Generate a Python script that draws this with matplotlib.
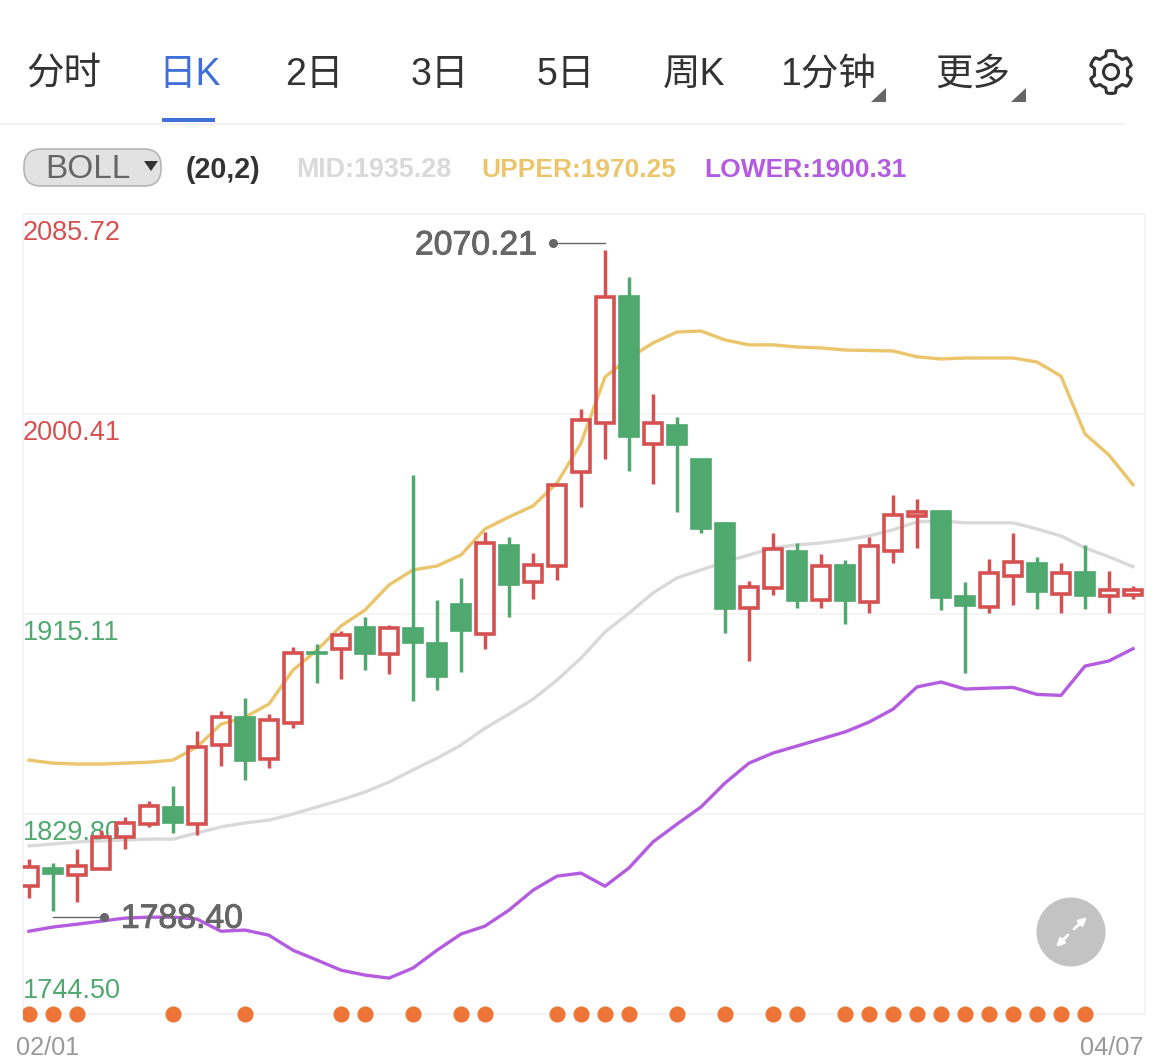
import numpy as np
import matplotlib
matplotlib.use("Agg")
import matplotlib.pyplot as plt
import matplotlib.patheffects as pe
from matplotlib.patches import Circle, FancyBboxPatch, Polygon, Rectangle

plt.rcParams['font.family'] = ['Liberation Sans', 'Noto Sans CJK SC', 'DejaVu Sans']

# daily candles, 02/01 to 04/07
opens = [1799.1, 1806.8, 1803.8, 1806.3, 1820.0, 1825.5, 1832.8, 1825.5, 1859.2, 1871.1, 1853.2, 1868.6,
         1898.9, 1900.2, 1909.6, 1898.0, 1909.1, 1902.7, 1919.4, 1906.6, 1944.6, 1928.7, 1935.6, 1975.7,
         1996.6, 2050.8, 1987.6, 1995.7, 1981.2, 1954.0, 1917.7, 1926.2, 1942.0, 1921.1, 1936.1, 1920.2,
         1942.0, 1956.9, 1959.1, 1922.8, 1918.1, 1931.3, 1936.9, 1923.6, 1933.0, 1922.8, 1923.2]
closes = [1807.2, 1804.2, 1807.6, 1820.0, 1826.0, 1833.2, 1826.0, 1858.4, 1871.1, 1852.4, 1869.8, 1898.5,
          1898.0, 1906.1, 1898.0, 1909.1, 1902.7, 1888.2, 1907.8, 1945.4, 1927.5, 1936.1, 1970.2, 1997.8,
          2050.4, 1990.6, 1996.6, 1987.2, 1951.4, 1917.2, 1926.6, 1942.9, 1920.6, 1935.6, 1920.6, 1944.2,
          1957.4, 1958.7, 1921.9, 1918.5, 1932.6, 1937.3, 1924.5, 1932.6, 1922.8, 1925.3, 1925.3]
highs = [1810.6, 1808.9, 1814.9, 1823.0, 1828.5, 1835.3, 1841.7, 1865.2, 1873.7, 1879.2, 1872.4, 1901.0,
         1902.3, 1907.8, 1913.8, 1910.4, 1974.4, 1921.1, 1930.5, 1950.1, 1948.0, 1941.2, 1970.2, 2002.5,
         2070.21, 2058.9, 2008.9, 1999.1, 1981.2, 1954.4, 1929.2, 1949.7, 1945.4, 1940.7, 1938.2, 1948.0,
         1965.9, 1964.2, 1959.1, 1928.7, 1938.6, 1949.7, 1939.5, 1936.9, 1944.6, 1933.4, 1927.0]
lows = [1794.0, 1788.40, 1792.3, 1806.3, 1814.9, 1824.3, 1821.7, 1820.8, 1850.2, 1844.3, 1849.4, 1866.4,
        1885.7, 1887.4, 1891.2, 1889.5, 1878.0, 1882.7, 1890.4, 1900.2, 1913.8, 1921.5, 1929.6, 1960.8,
        1981.2, 1976.1, 1970.6, 1958.7, 1949.7, 1907.0, 1895.1, 1923.2, 1917.7, 1917.7, 1910.8, 1915.5,
        1936.9, 1943.3, 1916.8, 1889.9, 1915.5, 1918.9, 1917.2, 1915.5, 1917.2, 1915.5, 1921.5]

# BOLL(20,2)
upper = [1852.8, 1851.5, 1851.1, 1851.1, 1851.5, 1851.9, 1852.8, 1858.4, 1868.1, 1871.1, 1876.7, 1891.2,
         1899.7, 1910.0, 1916.8, 1927.5, 1933.9, 1935.6, 1940.3, 1951.4, 1956.5, 1961.2, 1971.0, 1988.0,
         2016.2, 2024.3, 2030.7, 2035.4, 2035.8, 2032.0, 2029.9, 2029.9, 2029.0, 2028.6, 2027.7, 2027.5,
         2027.3, 2024.8, 2023.9, 2024.3, 2024.3, 2024.3, 2022.6, 2016.6, 1991.9, 1982.9, 1970.25]
mid = [1816.2, 1817.0, 1817.9, 1818.3, 1818.7, 1819.1, 1819.1, 1821.7, 1824.3, 1826.0, 1827.2, 1829.8,
       1832.8, 1835.8, 1839.2, 1843.4, 1848.6, 1853.6, 1859.2, 1866.4, 1872.4, 1878.8, 1886.9, 1896.3,
       1907.4, 1915.5, 1924.1, 1930.5, 1933.9, 1937.3, 1940.3, 1943.3, 1944.6, 1945.4, 1946.7, 1948.4,
       1951.0, 1954.4, 1954.8, 1954.0, 1954.0, 1954.0, 1951.4, 1948.4, 1943.3, 1939.5, 1935.28]
lower = [1779.8, 1781.6, 1782.8, 1784.1, 1785.4, 1785.8, 1785.8, 1785.0, 1779.8, 1780.3, 1778.1, 1771.7,
         1767.5, 1763.2, 1761.1, 1759.8, 1764.1, 1771.7, 1778.6, 1782.0, 1788.8, 1797.3, 1803.3, 1804.6,
         1799.0, 1806.8, 1817.9, 1825.5, 1832.8, 1843.0, 1851.5, 1855.8, 1858.8, 1861.8, 1864.8, 1869.0,
         1874.5, 1884.0, 1886.1, 1883.1, 1883.5, 1883.8, 1880.8, 1880.4, 1892.9, 1895.1, 1900.31]

# candles that carry an orange dot under the chart
dot_days = [0, 1, 2, 6, 9, 13, 14, 16, 18, 19, 22, 23, 24, 25, 27, 29, 31, 32, 34, 35, 36, 37, 38, 39,
            40, 41, 42, 43, 44]

y_ticks = [2085.72, 2000.41, 1915.11, 1829.80, 1744.50]
y_labels = ['2085.72', '2000.41', '1915.11', '1829.80', '1744.50']
y_label_colors = ['#d65050', '#d65050', '#4fa96e', '#4fa96e', '#4fa96e']
y_label_shift = [-13.4, -13.4, -13.4, -13.4, 16.8]
tabs = ['分时', '日K', '2日', '3日', '5日', '周K', '1分钟', '更多']
tab_x = [26, 158, 285, 411, 537, 663, 780, 935]
date_labels = ['02/01', '04/07']

RED = '#d65050'
GREEN = '#4fa96e'
YELLOW = '#ebc56b'
PURPLE = '#b45ce0'
GREY = '#d9d9d9'
ORANGE = '#ee7538'
BLUE = '#3f6fd9'
W, H = 1169, 1062

fig = plt.figure(figsize=(W / 100, H / 100), dpi=100, facecolor='white')

# chart area
ax = fig.add_axes([23 / W, 1 - 1014 / H, (1145 - 23) / W, 800 / H])
ax.set_xlim(-0.25, 46.5)
ax.set_ylim(1744.50, 2085.72)
ax.set_xticks([])
ax.set_yticks([])
for s in ax.spines.values():
    s.set_color('#f2f2f2')
    s.set_linewidth(1.2)
for t in y_ticks:
    ax.axhline(t, color='#f2f2f2', lw=1.2, zorder=1)
for t, lab, col, dy in zip(y_ticks, y_labels, y_label_colors, y_label_shift):
    ax.annotate(lab, (0, t), xycoords=('axes fraction', 'data'), xytext=(0, dy), textcoords='offset points',
                color=col, fontsize=19.5, ha='left', va='center', zorder=2, annotation_clip=False)

days = np.arange(len(opens))
ax.plot(days, upper, color=YELLOW, lw=2.4, zorder=3)
ax.plot(days, mid, color=GREY, lw=2.4, zorder=3)
ax.plot(days, lower, color=PURPLE, lw=2.4, zorder=3)

# candles: up days hollow, down days solid, wicks stop at the body
for i in days:
    top = max(opens[i], closes[i])
    bot = min(opens[i], closes[i])
    if closes[i] >= opens[i]:
        ax.vlines(i, top, highs[i], color=RED, lw=2.5, zorder=4)
        ax.vlines(i, lows[i], bot, color=RED, lw=2.5, zorder=4)
        ax.bar(i, top - bot, bottom=bot, width=0.74, facecolor='none', edgecolor=RED, lw=2.6, zorder=5)
    else:
        ax.vlines(i, lows[i], highs[i], color=GREEN, lw=2.5, zorder=4)
        ax.bar(i, top - bot, bottom=bot, width=0.84, facecolor=GREEN, edgecolor=GREEN, lw=1.2, zorder=5)

# high / low call-outs
stroke = [pe.withStroke(linewidth=0.7, foreground='#666666')]
hi = int(np.argmax(highs))
lo = int(np.argmin(lows))
ax.plot([hi - 2.17, hi], [highs[hi] + 3.0] * 2, color='#666666', lw=1, zorder=6)
ax.plot([hi - 2.17], [highs[hi] + 3.0], 'o', color='#666666', ms=5.5, zorder=6)
ax.text(hi - 2.81, highs[hi] + 1.9, f'{highs[hi]:.2f}', color='#666666', fontsize=24.3, ha='right', va='center',
        zorder=6, path_effects=stroke)
ax.plot([lo, lo + 2.125], [lows[lo] - 2.6] * 2, color='#666666', lw=1, zorder=6)
ax.plot([lo + 2.125], [lows[lo] - 2.6], 'o', color='#666666', ms=5.5, zorder=6)
ax.text(lo + 2.83, lows[lo] - 3.5, f'{lows[lo]:.2f}', color='#666666', fontsize=24.3, ha='left', va='center',
        zorder=6, path_effects=stroke)

# everything outside the plot, in pixel coordinates
ui = fig.add_axes([0, 0, 1, 1], facecolor='none')
ui.set_xlim(0, W)
ui.set_ylim(H, 0)
ui.axis('off')

dots = ax.scatter(dot_days, [y_ticks[-1]] * len(dot_days), s=112, color=ORANGE, zorder=7)
dots.set_clip_path(Rectangle((23, 200), 1130, 830, transform=ui.transData))

for lab, x in zip(tabs, tab_x):
    ui.text(x, 75, lab, fontsize=27, color=BLUE if lab == '日K' else '#333333', ha='left', va='center')
ui.add_patch(Rectangle((162, 118), 53, 4, color=BLUE, lw=0))
ui.plot([0, 1124], [123.5, 123.5], color='#f2f2f2', lw=1.4)
for x in [871, 1011]:
    ui.add_patch(Polygon([[x, 102], [x + 15, 102], [x + 15, 88]], color='#666666', lw=0))

# settings gear
theta = np.linspace(0, 2 * np.pi, 361)
gear = 19 + 2.4 * np.clip(3 * np.cos(6 * theta), -1, 1)
ui.plot(1111 + gear * np.sin(theta), 72 + gear * np.cos(theta), color='#333333', lw=2.2)
ui.add_patch(Circle((1111, 72), 7.5, fill=False, ec='#333333', lw=2.2))

# indicator row
ui.add_patch(FancyBboxPatch((24, 149), 137, 37, boxstyle='round,pad=0,rounding_size=17',
                            fc='#e2e2e2', ec='#b5b5b5', lw=1.2))
ui.text(45, 170, 'BOLL', fontsize=24, color='#666666', ha='left', va='center')
ui.add_patch(Polygon([[144, 161], [158, 161], [151, 171]], color='#333333', lw=0))
ui.text(186, 170, '(20,2)', fontsize=20.6, color='#333333', fontweight='bold', ha='left', va='center')
ui.text(296, 170, f'MID:{mid[-1]:.2f}', fontsize=19.4, color=GREY, fontweight='bold', ha='left', va='center')
ui.text(481, 170, f'UPPER:{upper[-1]:.2f}', fontsize=19, color=YELLOW, fontweight='bold', ha='left', va='center')
ui.text(704, 170, f'LOWER:{lower[-1]:.2f}', fontsize=19, color=PURPLE, fontweight='bold', ha='left', va='center')

# expand button
ui.add_patch(Circle((1071, 932), 34.5, color='#c3c3c3', lw=0, zorder=8))
for a, b in [((1068, 935), (1056, 947)), ((1074, 929), (1087, 917))]:
    ui.annotate('', xy=b, xytext=a, arrowprops=dict(arrowstyle='-|>', color='white', lw=2, mutation_scale=11,
                                                    shrinkA=0, shrinkB=0), zorder=9)

ui.text(16, 1048, date_labels[0], fontsize=18.2, color='#999999', ha='left', va='center')
ui.text(1143, 1048, date_labels[1], fontsize=18.2, color='#999999', ha='right', va='center')

fig.savefig('out.png', dpi=100)
